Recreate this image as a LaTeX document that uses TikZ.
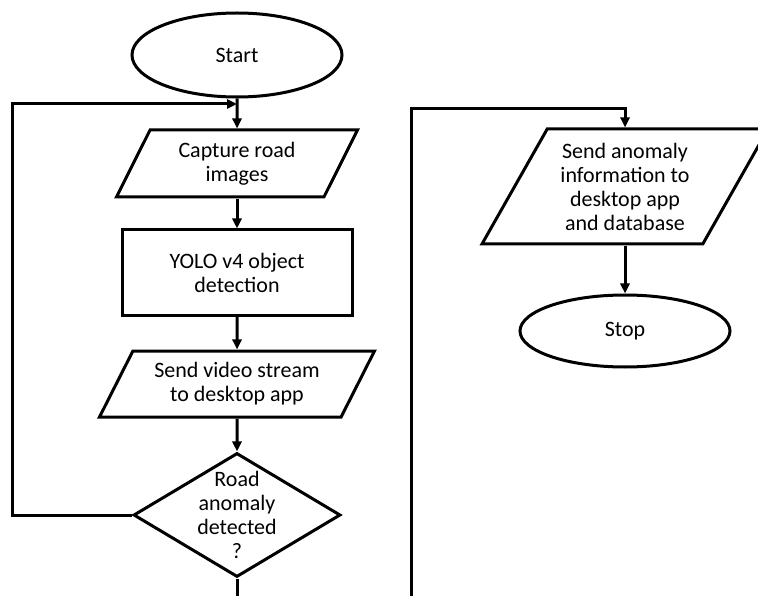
\documentclass[tikz,border=0pt]{standalone}
\usepackage{fontspec}
\setmainfont{Carlito}
\usetikzlibrary{arrows.meta,shapes.geometric}
\tikzset{
	terminal/.style={draw, ellipse, line width=3pt, minimum width=210pt, inner sep=0pt},
	io/.style={draw, trapezium, trapezium left angle=54.5, trapezium right angle=125.5, trapezium stretches body, line width=3pt, align=center, inner sep=2pt},
	process/.style={draw, rectangle, line width=3pt, align=center, minimum width=230pt, minimum height=85pt},
	decision/.style={draw, diamond, line width=3pt, minimum width=207pt, minimum height=124pt, inner sep=0pt},
	flow/.style={line width=3pt, -{Triangle[length=10pt,width=9pt]}},
	plain/.style={line width=3pt}
}

\begin{document}
\begin{tikzpicture}[x=1pt, y=-1pt, every node/.style={font=\fontsize{22}{24}\selectfont}]
			%%%%% START %%%%%
			\useasboundingbox (0, 0) rectangle (758, 596);
			
			\node[terminal, minimum height=84pt] (start) at (237, 55) {Start};
			\node[io, minimum width=241pt, minimum height=67pt] (capture) at (237, 163.5) {Capture road\\images};
			\node[process] (yolo) at (237, 272.5) {YOLO v4 object\\detection};
			\node[io, minimum width=275pt, minimum height=66pt] (video) at (237, 384) {Send video stream\\to desktop app};
			\node[decision] (dec) at (237, 515) {};
			\node[align=center] (dectext) at (dec.center) {Road\\anomaly\\detected\\?};
			
			\coordinate (join) at (237, 104);
			\coordinate (loopleft) at (12, 104);
			\coordinate (decout) at (237, 600);
			
			\draw[flow] (start) -- (capture);
			\draw[flow] (capture) -- (yolo);
			\draw[flow] (yolo) -- (video);
			\draw[flow] (video) -- (dec);
			\draw[flow] (dec.west) -| (loopleft) -- (join);
			\draw[plain] (dec.south) -- (decout);
			
			\node[io, minimum width=286pt, minimum height=115pt] (send) at (625, 186.5) {Send anomaly\\information to\\desktop app\\and database};
			\node[terminal, minimum height=72pt] (stop) at (625, 331) {Stop};
			
			\coordinate (conin) at (411, 600);
			\coordinate (conturn) at (411, 109);
			
			\draw[flow] (conin) -- (conturn) -| (send.north);
			\draw[flow] (send) -- (stop);
			%%%%% END %%%%%
		\end{tikzpicture}
\end{document}
